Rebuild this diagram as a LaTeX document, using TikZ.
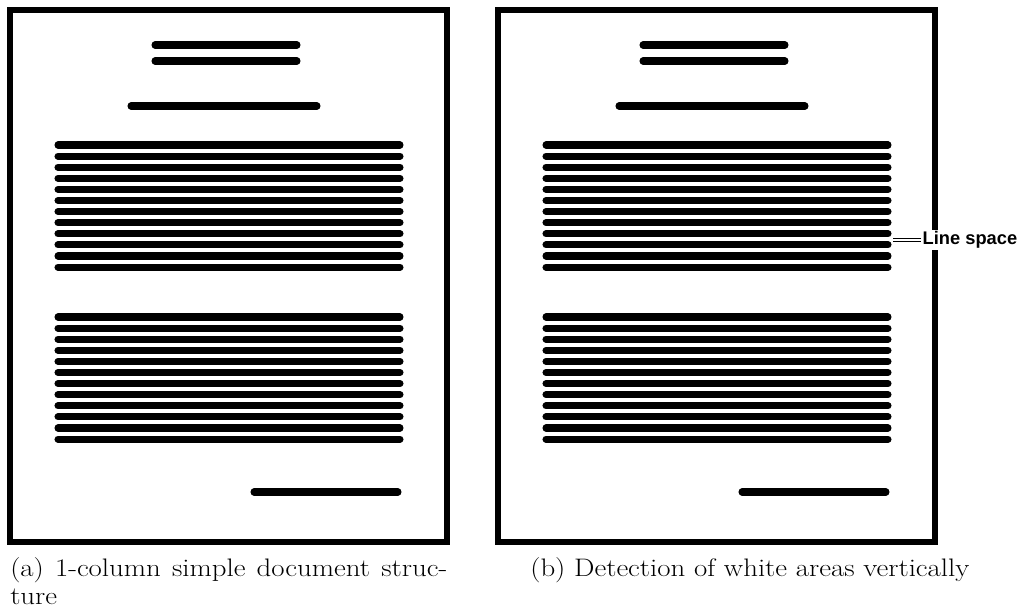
\documentclass[tikz,border=0pt]{standalone}
\usepackage{fontspec}
\newfontfamily\notefont{Liberation Sans}
\usetikzlibrary{positioning}

\begin{document}
\begin{tikzpicture}[x=0.025cm, y=-0.025cm,
    page/.style={draw, line width=3.8pt},
    row/.style={line width=5pt, line cap=round},
    note/.style={font=\notefont\bfseries\fontsize{13}{15}\selectfont, fill=white, inner sep=1pt},
    caption/.style={font=\fontsize{18}{21}\selectfont, inner sep=0pt, anchor=base west}]

  \useasboundingbox (0,0) rectangle (1019,612);

  \foreach \dx in {0,488} {
    \draw[page] (10+\dx,10) rectangle (447+\dx,542);
    \draw[row] (155+\dx,45) -- (297+\dx,45);
    \draw[row] (155+\dx,61) -- (297+\dx,61);
    \draw[row] (131+\dx,106) -- (317+\dx,106);
    \foreach \i in {0,...,11} {
      \draw[row] (58+\dx,145+11.1*\i) -- (400+\dx,145+11.1*\i);
      \draw[row] (58+\dx,317+11.1*\i) -- (400+\dx,317+11.1*\i);
    }
    \draw[row] (254+\dx,492) -- (398+\dx,492);
  }

  \node[note, anchor=west] (space) at (921,240) {Line space};
  \coordinate (gap) at (893,240);
  \draw[double, line width=0.5pt, double distance=1.3pt] (gap) -- (space.west);

  \node[caption] (capa) at (10,576) {\scalebox{1.14}[1]{\makebox[9.58cm][s]{(a) 1-column simple document struc-}}};
  \node[caption] (capa2) at (10,604) {\scalebox{1.14}[1]{ture}};
  \node[caption] (capb) at (530,576) {\scalebox{1.14}[1]{(b) Detection of white areas vertically}};
\end{tikzpicture}
\end{document}
